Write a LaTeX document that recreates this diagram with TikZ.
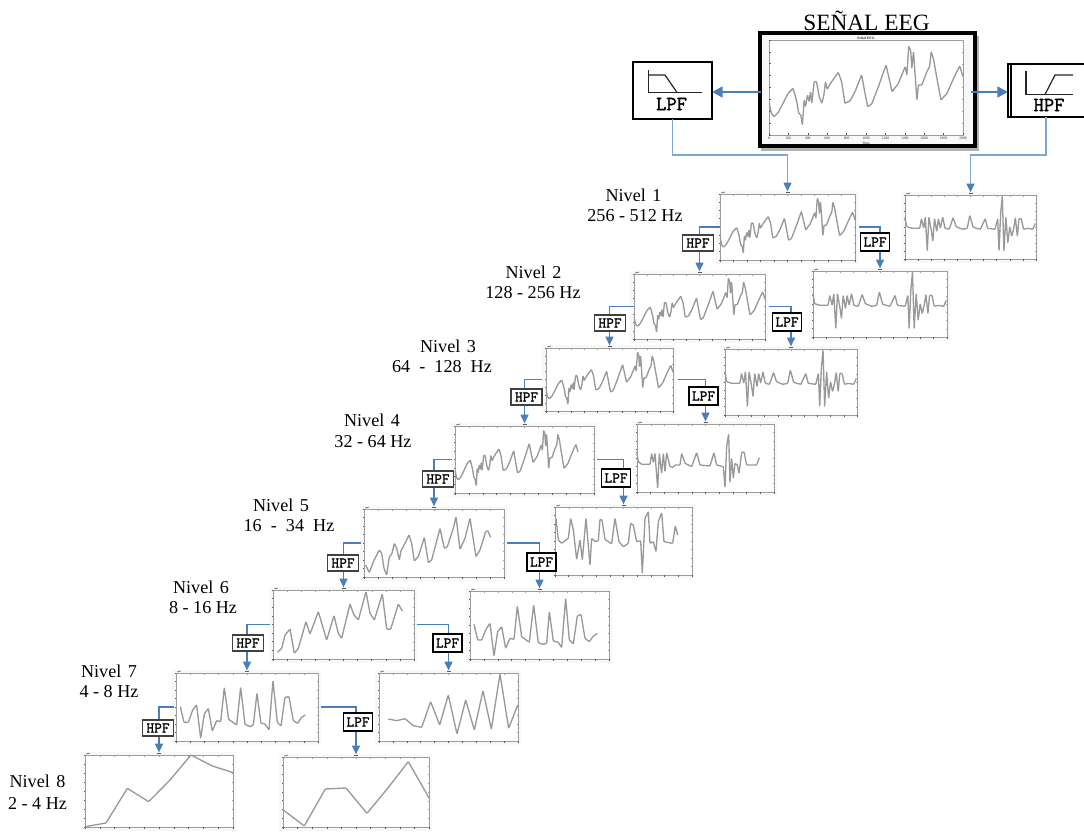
\documentclass[tikz,border=0pt]{standalone}
\usepackage{fontspec}
\setmainfont{Liberation Serif}
\newfontfamily\filtfont[FakeBold=1.6]{Latin Modern Mono}
\usetikzlibrary{arrows.meta,calc}
\definecolor{wire}{HTML}{4A7EBB}
\definecolor{wirelt}{HTML}{7FA6D2}
\definecolor{trace}{HTML}{999999}
\definecolor{axisc}{HTML}{9C9C9C}
\definecolor{margin}{HTML}{F8F8F8}
\tikzset{
  plotframe/.style={draw=axisc,line width=.7pt,fill=white,inner sep=0pt,outer sep=0pt},
  tracestyle/.style={draw=trace,line width=1pt,line join=round,rounded corners=.5pt},
  tickstyle/.style={draw=axisc,line width=.3pt},
  ticklow/.style={draw=black!65,line width=.45pt},
  wireline/.style={draw=wire,line width=.8pt,-{Triangle[length=6.5pt,width=6pt]},shorten >=2pt},
  wiretop/.style={draw=wirelt,line width=.8pt,-{Triangle[length=6.5pt,width=6pt,color=wire]},shorten >=2pt},
  filterbox/.style={draw=black!75,line width=.8pt,fill=white,inner sep=0pt,outer sep=0pt,font=\filtfont\fontsize{11.2}{12}\selectfont},
  lowbox/.style={filterbox,draw=black,line width=1.05pt},
  level/.style={font=\fontsize{13.6}{16}\selectfont,inner sep=0pt},
  bigfilter/.style={draw=black,line width=.8pt,fill=white,inner sep=0pt,outer sep=0pt},
  bigarrow/.style={draw=wire,line width=1.9pt,-{Triangle[length=8pt,width=8pt]}},
  icon/.style={draw=black!85,line width=.9pt},
  tiny/.style={font=\fontsize{2.8}{3}\selectfont,inner sep=0pt,text=black!80},
}
% \plotbox{name}{x1}{y1}{x2}{y2}
\newcommand\plotbox[5]{%
  \fill[margin] (#2-4,#3-3) rectangle (#4+3,#5+4);
  \node[plotframe,minimum width={(#4-#2)*0.75pt},minimum height={(#5-#3)*0.75pt}] (#1) at ({(#2+#4)/2},{(#3+#5)/2}) {};
  \foreach \i in {0,...,10}{
    \draw[ticklow] ({#2+(#4-#2)*\i/10},#5) -- ++(0,1.6);
    \draw[tickstyle] ({#2+(#4-#2)*\i/10},#3) -- ++(0,1.5);}
  \foreach \i in {0,...,8}{
    \draw[ticklow] (#2,{#3+(#5-#3)*\i/8}) -- ++(-1.5,0);
    \draw[tickstyle] (#4,{#3+(#5-#3)*\i/8}) -- ++(-1.5,0);}
  \draw[ticklow] ({(#2+#4)/2-2},#3-1.5) -- ++(4,0);
  \draw[ticklow] (#2+1,#3-1) -- ++(4,-1);
}
% \wave{x1}{y1}{x2}{y2}{sx1}{sy1}{sx2}{sy2}{path}: maps source box to plot box
\newcommand\wave[9]{%
  \pgfmathsetmacro\wsx{(#3-#1)/(#7-#5)}%
  \pgfmathsetmacro\wsy{(#4-#2)/(#8-#6)}%
  \pgfmathsetmacro\wox{#1-(#5)*\wsx}%
  \pgfmathsetmacro\woy{#2-(#6)*\wsy}%
  \pgfmathsetmacro\wxu{\wsx*0.75}%
  \pgfmathsetmacro\wyu{-\wsy*0.75}%
  \begin{scope}[shift={(\wox,\woy)},x=\wxu pt,y=\wyu pt]
    \draw[tracestyle] #9;
  \end{scope}%
}
\newcommand\lvl[7]{%
  \node[level] (#1a) at (#2,#4) {#6};
  \node[level] (#1b) at (#3,#5) {#7};
}
\def\nsp{\hspace{.36em}}
\def\mainwave{(449,310)--(455,340)--(463,350)--(475,338)--(490,310)--(505,280)--(520,265)--(530,300)--(537,340)--(543,345)--(548,375)--(553,300)--(557,320)--(563,285)--(568,305)--(572,275)--(576,310)--(583,245)--(590,245)--(598,290)--(606,310)--(612,285)--(617,245)--(622,268)--(632,250)--(655,217)--(665,245)--(675,310)--(690,303)--(705,275)--(725,225)--(735,280)--(743,320)--(755,312)--(775,260)--(798,195)--(808,240)--(816,275)--(835,250)--(855,200)--(860,225)--(866,138)--(872,155)--(875,205)--(880,155)--(886,240)--(890,300)--(895,255)--(905,255)--(920,215)--(928,200)--(933,155)--(940,178)--(950,235)--(962,300)--(980,280)--(1000,235)--(1018,198)--(1028,230)}
\def\detailwave{(700,340)--(705,370)--(720,375)--(745,375)--(750,345)--(757,375)--(762,340)--(768,445)--(773,340)--(780,380)--(785,415)--(790,345)--(797,385)--(802,345)--(808,375)--(815,340)--(822,375)--(835,378)--(847,342)--(856,370)--(875,378)--(890,375)--(898,335)--(908,372)--(930,378)--(945,345)--(952,375)--(975,378)--(983,345)--(987,445)--(992,330)--(997,275)--(1002,445)--(1008,340)--(1014,420)--(1020,370)--(1026,400)--(1032,375)--(1037,342)--(1043,400)--(1048,345)--(1055,345)--(1062,378)--(1075,375)--(1090,378)--(1098,360)}
\begin{document}
\begin{tikzpicture}[x=0.75pt,y=-0.75pt]
\useasboundingbox (0,0) rectangle (1084,831);
\fill[white] (0,0) rectangle (1084,831);

% main signal
\fill[black!30] (761,36) rectangle (979,151);
\node[draw=black,line width=3pt,fill=margin,minimum width={215*0.75pt},minimum height={113*0.75pt},inner sep=0pt,outer sep=0pt] (main) at (867,90) {};
\node[plotframe,minimum width={194*0.75pt},minimum height={95*0.75pt}] (mainaxes) at (866,87.5) {};
\foreach \i in {0,...,10}{
  \draw[ticklow] ({769+19.4*\i},135) -- ++(0,-1.5);
  \draw[tickstyle] ({769+19.4*\i},40) -- ++(0,1.5);}
\foreach \i in {0,...,8}{
  \draw[ticklow] (769,{40+95*\i/8}) -- ++(1.5,0);
  \draw[tickstyle] (963,{40+95*\i/8}) -- ++(-1.5,0);}
\wave{769}{40}{963}{135}{448}{120}{1028}{405}{\mainwave}
\node[tiny,font=\bfseries\fontsize{2.8}{3}\selectfont] (maintitle) at (866,38) {Señal EEG};
\node[tiny] (mainxlabel) at (866,143) {Time};
\foreach \i/\t in {0/0,1/200,2/400,3/600,4/800,5/1000,6/1200,7/1400,8/1600,9/1800,10/2000}{
  \node[tiny] (mainx\i) at ({769+19.4*\i},138) {\t};}
\node[font=\fontsize{17.5}{20}\selectfont,inner sep=0pt] (title) at (866.5,21) {SEÑAL EEG};

% top filters
\node[bigfilter,minimum width={79*0.75pt},minimum height={57*0.75pt}] (toplpf) at (672.5,90.5) {};
\draw[icon] (648.5,70) -- (648.5,92.5) -- (701.5,92.5);
\draw[icon] (648.5,75) -- (665,75) -- (677,92.5);
\node[inner sep=0pt,font=\filtfont\fontsize{15}{16}\selectfont] (toplpftext) at (671.5,104) {LPF};
\draw[bigfilter,fill=none] (1008,64) rectangle (1090,117);
\node[bigfilter,draw=none,fill=none,minimum width={76*0.75pt},minimum height={53*0.75pt}] (tophpf) at (1046,90.5) {};
\draw[draw=black,line width=.8pt] (1011,64) -- (1011,117);
\draw[icon] (1026,71) -- (1026,94.5) -- (1073,94.5);
\draw[icon] (1045,94.5) -- (1055,75) -- (1073,75);
\node[inner sep=0pt,font=\filtfont\fontsize{15}{16}\selectfont] (tophpftext) at (1049,105) {HPF};
\draw[bigarrow] (main.west) ++(1,2) -- (toplpf.east |- 0,92);
\draw[bigarrow] (main.east) ++(-4,2) -- (tophpf.west |- 0,92);

% level plots
\plotbox{la}{720}{194}{855}{260}
\plotbox{ra}{905}{195}{1036}{259}
\plotbox{lb}{634}{274}{765}{339}
\plotbox{rb}{813}{271}{947}{337}
\plotbox{lc}{546}{348}{673}{411}
\plotbox{rc}{725}{349}{857}{415}
\plotbox{ld}{455}{426}{594}{493}
\plotbox{rd}{637}{424}{774}{492}
\plotbox{le}{364}{509}{504}{577}
\plotbox{re}{555}{507}{692}{575}
\plotbox{lf}{273}{590}{414}{659}
\plotbox{rf}{470}{591}{609}{659}
\plotbox{lg}{176}{673}{318}{741}
\plotbox{rg}{379}{673}{518}{741}
\plotbox{lh}{85}{755}{233}{827}
\plotbox{rh}{283}{757}{429}{827}

% traces
\wave{720}{194}{855}{260}{448}{120}{1028}{405}{\mainwave}
\wave{634}{274}{765}{339}{448}{120}{1028}{405}{\mainwave}
\wave{546}{348}{673}{411}{448}{120}{1028}{405}{\mainwave}
\wave{455}{426}{578}{493}{448}{120}{1028}{405}{\mainwave}
\wave{905}{195}{1036}{259}{700}{272}{1100}{470}{\detailwave}
\wave{813}{271}{947}{337}{700}{272}{1100}{470}{\detailwave}
\wave{725}{349}{857}{415}{700}{272}{1100}{470}{\detailwave}
\wave{440}{410}{553.33}{443.33}{0}{0}{340}{100}{(590,125)--(595,155)--(605,163)--(630,163)--(635,130)--(640,158)--(645,130)--(653,235)--(658,130)--(665,190)--(670,130)--(675,185)--(680,128)--(690,170)--(700,172)--(705,165)--(720,165)--(725,130)--(735,160)--(755,170)--(770,128)--(780,165)--(810,168)--(822,128)--(830,165)--(850,170)--(855,232)--(860,110)--(866,72)--(870,218)--(875,145)--(880,205)--(885,160)--(892,165)--(897,190)--(905,128)--(912,125)--(920,165)--(935,165)--(950,165)--(958,143)}
\wave{320}{500}{420}{600}{0}{0}{300}{300}{(137,195)--(148,218)--(160,185)--(178,150)--(185,160)--(192,205)--(200,225)--(208,170)--(215,163)--(223,130)--(230,145)--(238,180)--(243,152)--(255,130)--(267,105)--(275,130)--(283,183)--(295,170)--(313,112)--(325,188)--(335,180)--(360,85)--(373,145)--(382,140)--(400,85)--(408,50)--(420,148)--(435,115)--(450,55)--(468,170)--(480,150)--(497,95)--(503,92)--(512,112)}
\wave{320}{500}{420}{600}{0}{0}{300}{300}{(708,55)--(715,120)--(725,130)--(745,115)--(752,55)--(760,90)--(770,178)--(780,120)--(787,180)--(798,55)--(810,195)--(815,115)--(825,125)--(835,122)--(840,58)--(846,60)--(855,118)--(875,132)--(885,55)--(897,125)--(910,140)--(925,130)--(932,70)--(940,75)--(950,125)--(962,122)--(967,220)--(975,55)--(985,35)--(990,130)--(1000,125)--(1008,155)--(1015,65)--(1025,38)--(1032,125)--(1058,130)--(1066,78)--(1073,105)}
\wave{230}{580}{330}{680}{0}{0}{300}{300}{(142,217)--(155,205)--(165,165)--(180,147)--(193,220)--(205,205)--(228,125)--(240,162)--(265,95)--(290,180)--(312,107)--(325,160)--(335,175)--(360,72)--(372,105)--(385,120)--(408,35)--(420,100)--(433,120)--(457,42)--(470,147)--(482,148)--(505,72)--(517,93)}
\wave{230}{580}{330}{680}{0}{0}{300}{300}{(732,133)--(743,180)--(755,180)--(768,148)--(780,130)--(792,228)--(803,155)--(815,140)--(827,205)--(840,175)--(852,178)--(862,78)--(875,170)--(898,187)--(911,75)--(925,188)--(940,193)--(950,190)--(958,95)--(970,183)--(985,187)--(995,203)--(1007,55)--(1018,180)--(1030,192)--(1042,108)--(1053,103)--(1065,175)--(1078,185)--(1090,168)--(1102,160)}
\wave{0}{660}{100}{760}{0}{0}{300}{300}{(541,140)--(552,187)--(565,187)--(578,150)--(590,135)--(602,235)--(613,162)--(625,145)--(637,213)--(650,182)--(662,185)--(673,83)--(686,178)--(710,195)--(722,82)--(735,193)--(750,200)--(760,195)--(771,100)--(783,190)--(795,192)--(807,210)--(819,62)--(832,187)--(843,198)--(855,112)--(867,110)--(880,182)--(893,190)--(905,172)--(916,165)}
\wave{370}{660}{470}{760}{0}{0}{300}{300}{(55,177)--(80,182)--(105,176)--(130,197)--(155,202)--(182,125)--(209,195)--(235,105)--(261,222)--(287,120)--(313,210)--(339,92)--(364,208)--(390,42)--(416,205)--(443,135)}
\wave{0}{660}{100}{760}{0}{0}{300}{300}{(256,500)--(318,489)--(382,385)--(446,425)--(510,360)--(573,285)--(637,318)--(700,338)}
\wave{0}{660}{100}{760}{0}{0}{300}{300}{(850,450)--(913,498)--(976,387)--(1038,384)--(1101,460)--(1163,385)--(1225,305)--(1288,415)}

% connectors
\draw[wiretop] (toplpf.south) -- ++(0,36) coordinate (jl) -| (la.north);
\draw[wiretop] (tophpf.south) -- ++(0,38) coordinate (jh) -| (ra.north);
\draw[wireline] (la.west) -| (lb.north);
\draw[wireline,shorten <=3pt] (la.east) -| (rb.north);
\draw[wireline] (lb.west) -| (lc.north);
\draw[wireline,shorten <=3pt] (lb.east) -| (rc.north);
\draw[wireline,shorten <=3pt] (lc.west) -| (ld.north);
\draw[wireline,shorten <=4pt] (lc.east) -| (rd.north);
\draw[wireline,shorten <=2.5pt] (ld.west) -| (le.north);
\draw[wireline,shorten <=2.5pt] (ld.east) -| (re.north);
\draw[wireline,shorten <=2.5pt] (le.west) -| (lf.north);
\draw[wireline,shorten <=2.5pt] (le.east) -| (rf.north);
\draw[wireline,shorten <=2.5pt] (lf.west) -| (lg.north);
\draw[wireline,shorten <=2.5pt] (lf.east) -| (rg.north);
\draw[wireline,shorten <=1.5pt] (lg.west) -| (lh.north);
\draw[wireline,shorten <=2.5pt] (lg.east) -| (rh.north);

% small filters
\newcommand\hpfbox[3]{\node[filterbox,minimum width={31*0.75pt},minimum height={16*0.75pt}] (#1) at (#2,#3) {HPF};}
\newcommand\lpfbox[3]{\node[lowbox,minimum width={29*0.75pt},minimum height={18*0.75pt}] (#1) at (#2,#3) {LPF};}
\hpfbox{ha}{698}{243}  \lpfbox{pa}{875}{242}
\hpfbox{hb}{610}{323}  \lpfbox{pb}{787}{322}
\hpfbox{hc}{526.5}{397}\lpfbox{pc}{703.5}{396}
\hpfbox{hd}{438}{479}  \lpfbox{pd}{616}{478}
\hpfbox{he}{343}{563}  \lpfbox{pe}{541.5}{562}
\hpfbox{hf}{248}{643}  \lpfbox{pf}{447.5}{643}
\hpfbox{hg}{158}{728}  \lpfbox{pg}{358}{722}

% level labels
\lvl{n1}{633.5}{635}{195}{216}{Nivel\nsp 1}{256 - 512 Hz}
\lvl{n2}{533.5}{533}{272}{293}{Nivel\nsp 2}{128 - 256 Hz}
\lvl{n3}{448}{442}{346}{367}{Nivel\nsp 3}{64\ \ -\ \ 128\ \ Hz}
\lvl{n4}{372}{373}{420}{442}{Nivel\nsp 4}{32 - 64 Hz}
\lvl{n5}{281}{289}{505}{526}{Nivel\nsp 5}{16\ \ -\ \ 34\ \ Hz}
\lvl{n6}{201}{203}{587}{608}{Nivel\nsp 6}{8 - 16 Hz}
\lvl{n7}{109}{109}{671}{692}{Nivel\nsp 7}{4 - 8 Hz}
\lvl{n8}{37.5}{37.5}{781}{803}{Nivel\nsp 8}{2 - 4 Hz}
\end{tikzpicture}
\end{document}
